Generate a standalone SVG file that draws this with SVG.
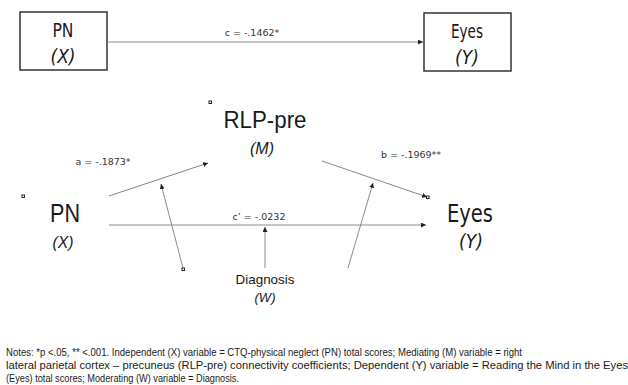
<svg xmlns="http://www.w3.org/2000/svg" width="628" height="385" viewBox="0 0 628 385">
<style>
.box{fill:#fff;stroke:#333;stroke-width:1.5}
.ln{stroke:#8a8a8a;stroke-width:1;fill:none}
.gill{font-family:"DejaVu Sans Condensed","DejaVu Sans",sans-serif;fill:#1a1a1a;text-anchor:middle}
.big{font-family:"Liberation Sans",Arial,sans-serif;fill:#1a1a1a;text-anchor:middle}
.it{font-style:italic}
.lbl{font-family:"DejaVu Sans",Verdana,sans-serif;font-size:9.5px;fill:#333;text-anchor:middle}
.note{font-family:"Liberation Sans",Arial,sans-serif;font-size:10px;fill:#1a1a1a}
.sq{fill:#fff;stroke:#222;stroke-width:1}
</style>
<defs>
<marker id="ah" viewBox="0 0 10 10" refX="10" refY="5" markerWidth="5" markerHeight="5" orient="auto" markerUnits="userSpaceOnUse">
<path d="M0,0 L10,5 L0,10 z" fill="#222"/>
</marker>
</defs>
<g id="top-pn">
<rect class="box" x="20" y="12" width="87" height="58"/>
<text class="gill" x="63" y="37" font-size="20" textLength="21" lengthAdjust="spacingAndGlyphs">PN</text>
<text class="gill it" x="63" y="63" font-size="19">(X)</text>
</g>
<g id="top-eyes">
<rect class="box" x="424" y="13" width="87" height="58"/>
<text class="gill" x="467" y="38" font-size="20" textLength="32" lengthAdjust="spacingAndGlyphs">Eyes</text>
<text class="gill it" x="467" y="64" font-size="19">(Y)</text>
</g>
<g id="rlp">
<rect class="sq" x="209" y="101" width="2.5" height="2.5"/>
<text class="big" x="265" y="128" font-size="24" textLength="83" lengthAdjust="spacingAndGlyphs">RLP-pre</text>
<text class="big it" x="262" y="154" font-size="17" textLength="24" lengthAdjust="spacingAndGlyphs">(M)</text>
</g>
<g id="pn">
<rect class="sq" x="22" y="195" width="2.5" height="2.5"/>
<text class="big" x="65" y="222" font-size="26" textLength="30" lengthAdjust="spacingAndGlyphs">PN</text>
<text class="big it" x="63" y="248" font-size="17" textLength="21" lengthAdjust="spacingAndGlyphs">(X)</text>
</g>
<g id="eyes">
<text class="gill" x="470" y="222" font-size="25" textLength="46" lengthAdjust="spacingAndGlyphs">Eyes</text>
<text class="gill it" x="471" y="248" font-size="19" textLength="24" lengthAdjust="spacingAndGlyphs">(Y)</text>
</g>
<g id="diagnosis">
<text class="big" x="265" y="284" font-size="13" textLength="59" lengthAdjust="spacingAndGlyphs">Diagnosis</text>
<text class="big it" x="265" y="302" font-size="13">(W)</text>
</g>
<g id="connectors">
<line class="ln" x1="107" y1="42" x2="423" y2="42" marker-end="url(#ah)"/>
<line class="ln" x1="109" y1="196" x2="208" y2="163" marker-end="url(#ah)"/>
<line class="ln" x1="322" y1="161" x2="427" y2="197" marker-end="url(#ah)"/>
<rect class="sq" x="426.5" y="196" width="2.5" height="2.5"/>
<line class="ln" x1="109" y1="225" x2="426" y2="225" marker-end="url(#ah)"/>
<line class="ln" x1="183" y1="268" x2="161" y2="184" marker-end="url(#ah)"/>
<rect class="sq" x="182" y="268" width="2.5" height="2.5"/>
<line class="ln" x1="348" y1="268" x2="373" y2="183" marker-end="url(#ah)"/>
<line class="ln" x1="265" y1="268" x2="265" y2="227" marker-end="url(#ah)"/>
</g>
<g id="labels">
<text class="lbl" x="252" y="36">c = -.1462*</text>
<text class="lbl" x="103" y="165">a = -.1873*</text>
<text class="lbl" x="411" y="158">b = -.1969**</text>
<text class="lbl" x="259" y="220">c’ = -.0232</text>
</g>
<g id="notes">
<text class="note" x="6" y="356" textLength="516" lengthAdjust="spacingAndGlyphs">Notes: *p &lt;.05, ** &lt;.001. Independent (X) variable = CTQ-physical neglect (PN) total scores; Mediating (M) variable = right</text>
<text class="note" x="6" y="369" textLength="622" lengthAdjust="spacingAndGlyphs">lateral parietal cortex – precuneus (RLP-pre) connectivity coefficients; Dependent (Y) variable = Reading the Mind in the Eyes</text>
<text class="note" x="6" y="382" textLength="233" lengthAdjust="spacingAndGlyphs">(Eyes) total scores; Moderating (W) variable = Diagnosis.</text>
</g>
</svg>
